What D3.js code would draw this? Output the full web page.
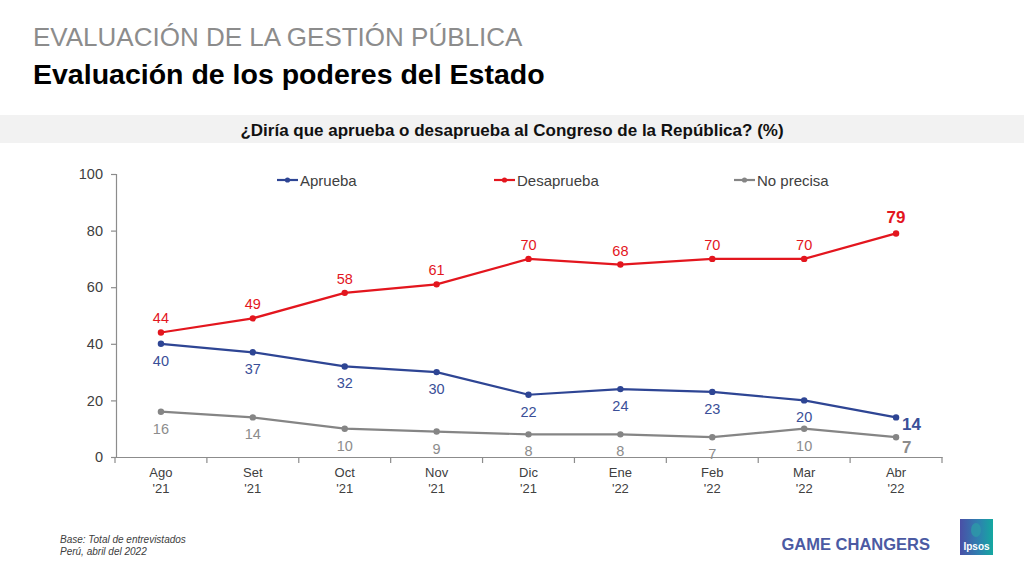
<!DOCTYPE html>
<html>
<head>
<meta charset="utf-8">
<script src="https://cdn.jsdelivr.net/npm/d3@7"></script>
<style>
  body { margin: 0; background: #fff; }
  svg { font-family: "Liberation Sans", Arial, sans-serif; }
</style>
</head>
<body>
<div id="canvas"></div>
<script>
const months = ["Ago", "Set", "Oct", "Nov", "Dic", "Ene", "Feb", "Mar", "Abr"];
const years = ["'21", "'21", "'21", "'21", "'21", "'22", "'22", "'22", "'22"];
const aprueba = [40, 37, 32, 30, 22, 24, 23, 20, 14];
const desaprueba = [44, 49, 58, 61, 70, 68, 70, 70, 79];
const noPrecisa = [16, 14, 10, 9, 8, 8, 7, 10, 7];
const yTicks = [0, 20, 40, 60, 80, 100];

drawChart();

function drawChart() {
  const width = 1024;
  const height = 575;

  const svg = d3.select("#canvas")
    .append("svg")
    .attr("width", width)
    .attr("height", height);

  // titles
  svg.append("text").attr("x", 33).attr("y", 46)
    .style("font-size", "26px").style("fill", "#8c8c8c")
    .text("EVALUACIÓN DE LA GESTIÓN PÚBLICA");
  svg.append("text").attr("x", 33).attr("y", 84)
    .style("font-size", "28.5px").style("font-weight", "bold").style("fill", "#000")
    .text("Evaluación de los poderes del Estado");

  svg.append("rect").attr("x", 0).attr("y", 115).attr("width", width).attr("height", 28)
    .style("fill", "#f2f2f2");
  svg.append("text").attr("x", 512).attr("y", 136).attr("text-anchor", "middle")
    .style("font-size", "17px").style("font-weight", "bold").style("fill", "#111")
    .text("¿Diría que aprueba o desaprueba al Congreso de la República? (%)");

  const x = d3.scaleBand().domain(months).range([115, 942]);
  const y = d3.scaleLinear().domain([0, 100]).range([457, 174]);

  // axes
  const yAxis = svg.append("g").attr("transform", "translate(116,0)")
    .call(d3.axisLeft(y).tickValues(yTicks).tickSize(5).tickPadding(8));
  yAxis.selectAll("text").style("font-size", "14.5px").style("fill", "#404040")
    .style("font-family", "Liberation Sans, Arial, sans-serif");

  const xAxis = svg.append("g").attr("transform", "translate(0,457)")
    .call(d3.axisBottom(x).tickSize(0).tickFormat(""));
  xAxis.selectAll(".tick").remove();
  xAxis.selectAll(".tm").data(d3.range(months.length + 1)).enter()
    .append("line")
    .attr("x1", (i) => 115 + i * x.bandwidth())
    .attr("x2", (i) => 115 + i * x.bandwidth())
    .attr("y1", 0).attr("y2", 6);
  [yAxis, xAxis].forEach((a) => {
    a.selectAll("path, line").style("stroke", "#8c8c8c").style("stroke-width", 1.2);
  });

  const xLab = svg.append("g").selectAll("text").data(months).enter()
    .append("text")
    .attr("x", (d) => x(d) + x.bandwidth() / 2)
    .attr("text-anchor", "middle")
    .style("font-size", "13px").style("fill", "#404040");
  xLab.append("tspan").attr("x", (d) => x(d) + x.bandwidth() / 2).attr("y", 477).text((d) => d);
  xLab.append("tspan").attr("x", (d) => x(d) + x.bandwidth() / 2).attr("y", 493)
    .text((d, i) => years[i]);

  const series = [
    { name: "Aprueba", values: aprueba, color: "#2e4594", labelColor: "#3a4f98", dy: 22, legendX: 277 },
    { name: "Desaprueba", values: desaprueba, color: "#e3161e", labelColor: "#e3161e", dy: -9, legendX: 494 },
    { name: "No precisa", values: noPrecisa, color: "#858585", labelColor: "#8c8c8c", dy: 22, legendX: 734 }
  ];

  const line = d3.line()
    .x((d, i) => x(months[i]) + x.bandwidth() / 2)
    .y((d) => y(d));

  series.forEach((s) => {
    const g = svg.append("g");
    g.append("path").datum(s.values).attr("d", line)
      .style("fill", "none").style("stroke", s.color).style("stroke-width", 2.2);
    g.selectAll("circle").data(s.values).enter().append("circle")
      .attr("cx", (d, i) => x(months[i]) + x.bandwidth() / 2)
      .attr("cy", (d) => y(d)).attr("r", 3.2).style("fill", s.color);

    const last = s.values.length - 1;
    g.selectAll("text").data(s.values).enter().append("text")
      .attr("x", (d, i) => {
        const cx = x(months[i]) + x.bandwidth() / 2;
        if (i === last && s.name !== "Desaprueba") return cx + 6;
        return cx;
      })
      .attr("y", (d, i) => {
        if (i === last && s.name === "Aprueba") return y(d) + 13;
        if (i === last && s.name === "No precisa") return y(d) + 16;
        if (i === last) return y(d) - 10;
        return y(d) + s.dy;
      })
      .attr("text-anchor", (d, i) => (i === last && s.name !== "Desaprueba") ? "start" : "middle")
      .style("font-size", (d, i) => i === last ? "17px" : "14.5px")
      .style("font-weight", (d, i) => i === last ? "bold" : "normal")
      .style("fill", s.labelColor)
      .text((d) => d);

    // legend
    const lg = svg.append("g");
    lg.append("line").attr("x1", s.legendX).attr("x2", s.legendX + 21)
      .attr("y1", 180).attr("y2", 180)
      .style("stroke", s.color).style("stroke-width", 2.2);
    lg.append("circle").attr("cx", s.legendX + 10.5).attr("cy", 180).attr("r", 2.6)
      .style("fill", s.color);
    lg.append("text").attr("x", s.legendX + 23).attr("y", 185.5)
      .style("font-size", "15px").style("fill", "#404040").text(s.name);
  });

  // footer
  svg.append("text").attr("x", 60).attr("y", 543)
    .style("font-size", "10px").style("font-style", "italic").style("fill", "#404040")
    .text("Base: Total de entrevistados");
  svg.append("text").attr("x", 60).attr("y", 555)
    .style("font-size", "10px").style("font-style", "italic").style("fill", "#404040")
    .text("Perú, abril del 2022");

  svg.append("text").attr("x", 930).attr("y", 550).attr("text-anchor", "end")
    .style("font-size", "16.5px").style("font-weight", "bold").style("fill", "#4b5aa3")
    .text("GAME CHANGERS");

  // logo
  const defs = svg.append("defs");
  const grad = defs.append("linearGradient").attr("id", "ipsosGrad")
    .attr("x1", "0%").attr("x2", "100%").attr("y1", "0%").attr("y2", "0%");
  grad.append("stop").attr("offset", "0%").attr("stop-color", "#4a4fa6");
  grad.append("stop").attr("offset", "55%").attr("stop-color", "#2f7fb0");
  grad.append("stop").attr("offset", "100%").attr("stop-color", "#14a8a0");
  svg.append("rect").attr("x", 960).attr("y", 519).attr("width", 33).attr("height", 36)
    .style("fill", "url(#ipsosGrad)");
  svg.append("ellipse").attr("cx", 976).attr("cy", 530).attr("rx", 5).attr("ry", 7)
    .style("fill", "#2d9aa8").style("opacity", 0.8);
  svg.append("text").attr("x", 976.5).attr("y", 550).attr("text-anchor", "middle")
    .style("font-size", "10px").style("font-weight", "bold").style("fill", "#fff")
    .text("Ipsos");
}
</script>
</body>
</html>
